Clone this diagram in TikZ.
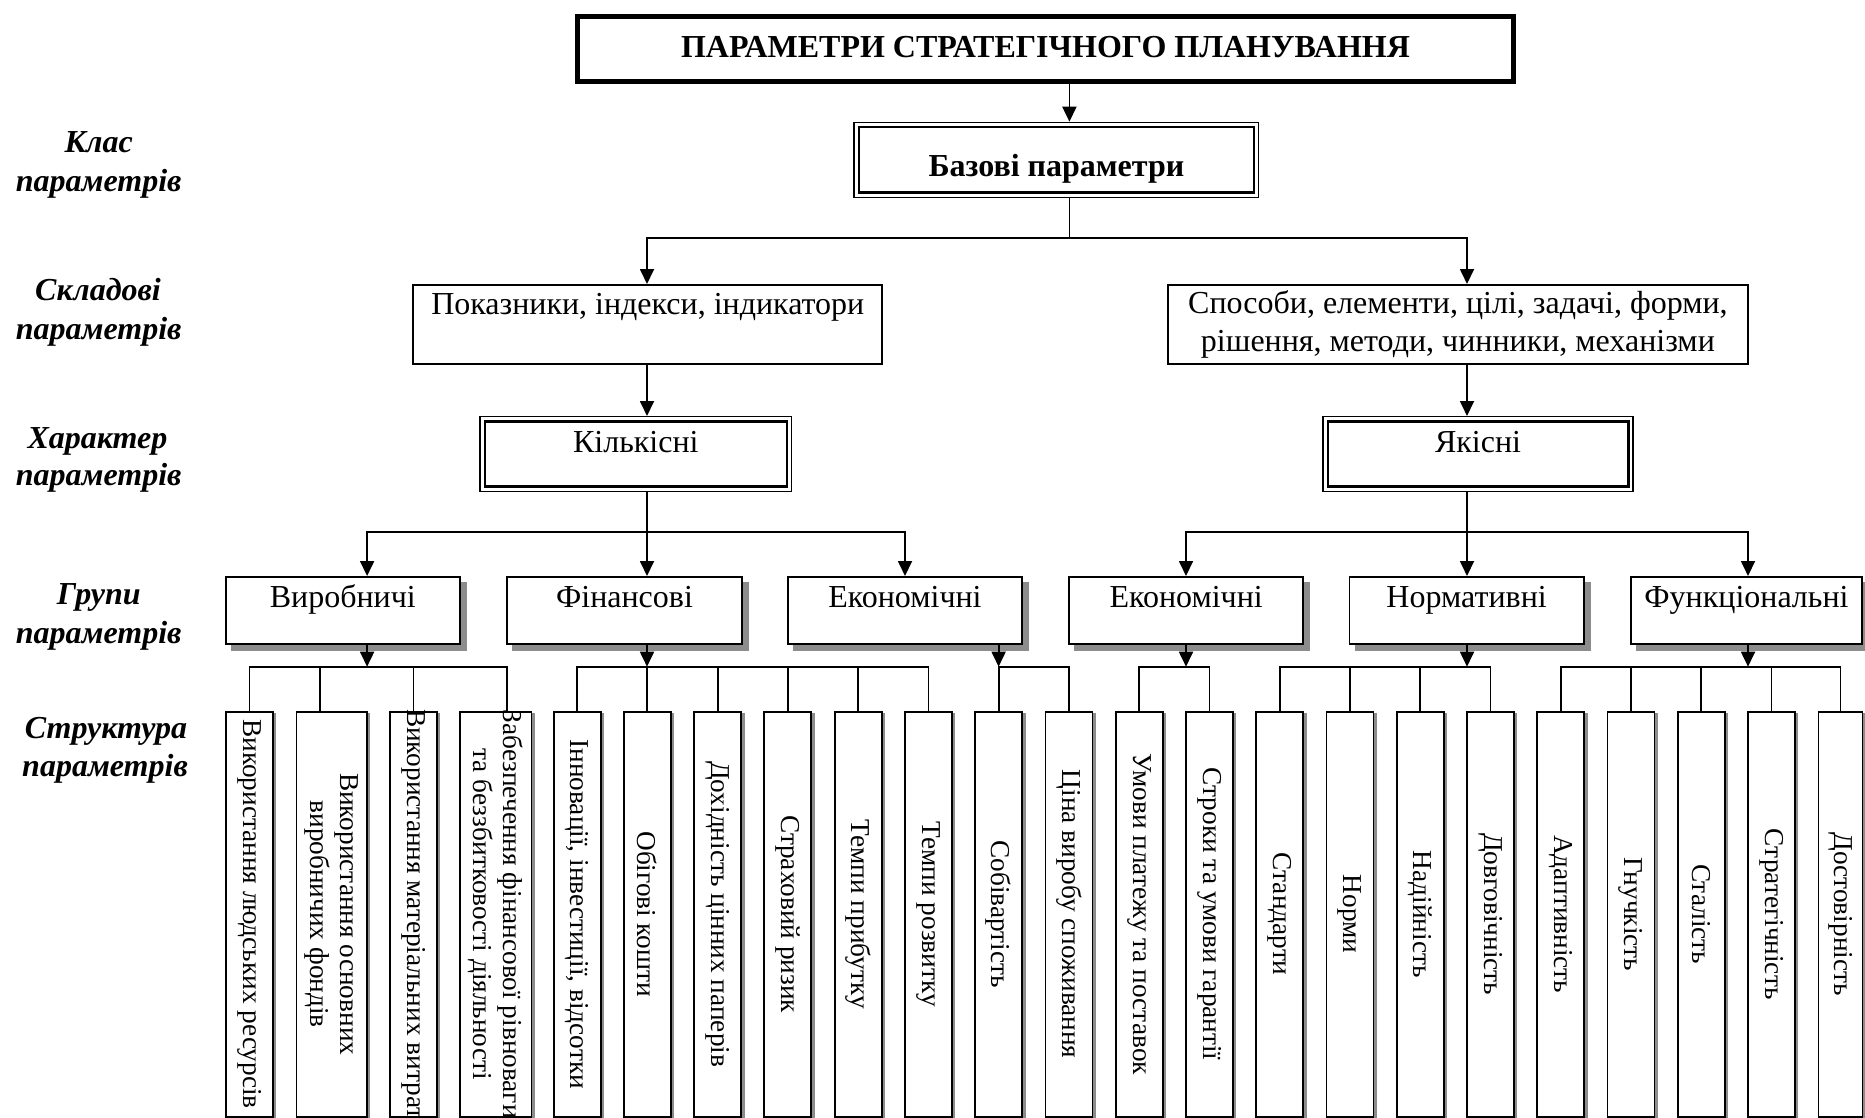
\documentclass[tikz,border=0pt]{standalone}
\usepackage{fontspec}
\setmainfont{Liberation Serif}
\usetikzlibrary{arrows.meta,backgrounds,calc}
\newcommand\hfnt{\fontsize{32}{38}\selectfont}
\newcommand\vfnt{\fontsize{27.3}{30.5}\selectfont}
\begin{document}
\begin{tikzpicture}[x=1pt,y=-1pt,
  ln/.style={line width=1.8pt},
  arr/.style={line width=1.8pt,-{Triangle[length=15pt,width=14pt]}},
  hbox/.style={draw,line width=1.8pt,fill=white,inner sep=0pt,font=\hfnt,anchor=north},
  gbox/.style={hbox,minimum width=234.3pt,text height=31pt,text depth=36.3pt},
  dbox/.style={draw,line width=1.4pt,fill=white,inner sep=0pt,font=\hfnt,anchor=north,minimum width=311pt,text height=36pt,text depth=38.7pt},
  inner/.style={line width=2.6pt},
  vbox/.style={draw,line width=1.8pt,fill=white,inner sep=0pt,font=\vfnt,rotate=-90,minimum width=405pt,minimum height=47pt,align=center},
  side/.style={font=\hfnt\bfseries\itshape,anchor=base},
  shade/.style={fill=black!45},
]
\useasboundingbox (0,0) rectangle (1865,1118);

% ---- side labels
\node[side] (s1a) at (98.7,153) {Клас};
\node[side] (s1b) at (98.7,192) {параметрів};
\node[side] (s2a) at (98,300) {Складові};
\node[side] (s2b) at (98.7,339.5) {параметрів};
\node[side] (s3a) at (97.5,448) {Характер};
\node[side] (s3b) at (98.7,485) {параметрів};
\node[side] (s4a) at (98.7,604) {Групи};
\node[side] (s4b) at (98.7,643) {параметрів};
\node[side] (s5a) at (106,738) {Структура};
\node[side] (s5b) at (105,776) {параметрів};

% ---- top levels
\node[draw,line width=5pt,fill=white,inner sep=0pt,anchor=north,minimum width=936pt,
      text height=40.5pt,text depth=24.5pt,font=\hfnt\bfseries] (top) at (1045.5,14.5)
      {ПАРАМЕТРИ СТРАТЕГІЧНОГО ПЛАНУВАННЯ};
\node[dbox,font=\hfnt\bfseries,minimum width=404.75pt,text height=54.3pt,text depth=20.7pt]
      (bas) at (1056.4,121.7) {Базові параметри};
\draw[inner] ([shift={(5.5,5.5)}]bas.north west) rectangle ([shift={(-5.5,-5.5)}]bas.south east);

\node[hbox,minimum width=469pt,text height=29.5pt,text depth=49.2pt] (pok) at (647.8,284)
      {Показники, індекси, індикатори};
\node[hbox,minimum width=580.1pt,minimum height=78.7pt,align=center] (spo) at (1457.9,284)
      {Способи, елементи, цілі, задачі, форми,\\рішення, методи, чинники, механізми};

\node[dbox,minimum width=311.7pt] (kil) at (635.85,416) {Кількісні};
\draw[inner] ([shift={(5.5,5.5)}]kil.north west) rectangle ([shift={(-5.5,-5.5)}]kil.south east);
\node[dbox,minimum width=310pt] (yak) at (1478,416) {Якісні};
\draw[inner] ([shift={(5.5,5.5)}]yak.north west) rectangle ([shift={(-5.5,-5.5)}]yak.south east);

% ---- groups
\node[gbox] (g1) at (342.85,576) {Виробничі};
\node[gbox] (g2) at (624.5,576) {Фінансові};
\node[gbox] (g3) at (904.95,576) {Економічні};
\node[gbox] (g4) at (1186.15,576) {Економічні};
\node[gbox] (g5) at (1466.6,576) {Нормативні};
\node[gbox,minimum width=231pt] (g6) at (1746.5,576) {Функціональні};

% ---- structure boxes
\node[vbox] (b1) at (249.45,914.2) {Використання людських ресурсів};
\node[vbox,minimum height=70.4pt] (b2) at (331.6,914.2) {Використання основних\\виробничих фондів};
\node[vbox] (b3) at (413.55,914.2) {\makebox[0pt]{Використання матеріальних витрат}};
\node[vbox,minimum height=71.4pt] (b4) at (495.7,914.2) {\makebox[0pt]{Забезпечення фінансової рівноваги}\\\makebox[0pt]{та беззбитковості діяльності}};
\foreach \i/\t in {5/{Інновації, інвестиції, відсотки},6/Обігові кошти,7/Дохідність цінних паперів,
  8/Страховий ризик,9/Темпи прибутку,10/Темпи розвитку,11/Собівартість,12/Ціна виробу споживання,
  13/Умови платежу та поставок,14/Строки та умови гарантії,15/Стандарти,16/Норми,17/Надійність,
  18/Довговічність,19/Адаптивність,20/Гнучкість,21/Сталість,22/Стратегічність}
  \node[vbox] (b\i) at ({577.1+(\i-5)*70.26},914.2) {\t};
\node[vbox,minimum height=44pt] (b23) at (1840.5,914.2) {Достовірність};

% ---- shadows
\begin{scope}[on background layer]
  \foreach \i in {1,...,6}
    \fill[shade] ([shift={(6,6)}]g\i.north west) rectangle ([shift={(6,6)}]g\i.south east);
  \foreach \i in {1,...,23}
    \fill[shade] ([shift={(2.5,2.5)}]b\i.south west) rectangle ([shift={(2.5,2.5)}]b\i.north east);
\end{scope}

% ---- reference coordinates
\coordinate (xA) at (1069.4,0);
\coordinate (xL) at (647,0);
\coordinate (xR) at (1467,0);
\coordinate (yB1) at (0,238.3);
\coordinate (yB2) at (0,531.7);
\coordinate (yB3) at (0,666.7);
\coordinate (a1) at (367.1,0);
\coordinate (a3) at (905,0);
\coordinate (a4) at (1186,0);
\coordinate (a6) at (1748,0);
\coordinate (c3) at (998.6,0);
\coordinate (s2) at (320,0);
\coordinate (s4) at (507.1,0);

% ---- connectors top
\draw[arr] (top.south -| xA) -- (bas.north -| xA);
\draw[ln] (bas.south -| xA) -- (xA |- yB1);
\draw[arr] (xA |- yB1) -| (pok.north -| xL);
\draw[arr] (xA |- yB1) -| (spo.north -| xR);
\draw[arr] (pok.south -| xL) -- (kil.north -| xL);
\draw[arr] (spo.south -| xR) -- (yak.north -| xR);
\draw[ln] (kil.south -| xL) -- (xL |- yB2);
\draw[ln] (yak.south -| xR) -- (xR |- yB2);
\draw[arr] (xL |- yB2) -| (g1.north -| a1);
\draw[arr] (xL |- yB2) -- (g2.north -| xL);
\draw[arr] (xL |- yB2) -| (g3.north -| a3);
\draw[arr] (xR |- yB2) -| (g4.north -| a4);
\draw[arr] (xR |- yB2) -- (g5.north -| xR);
\draw[arr] (xR |- yB2) -| (g6.north -| a6);

% ---- group -> bus arrows
\draw[arr] (g1.south -| a1) -- (a1 |- yB3);
\draw[arr] (g2.south -| xL) -- (xL |- yB3);
\draw[arr] (g3.south -| c3) -- (c3 |- yB3);
\draw[arr] (g4.south -| a4) -- (a4 |- yB3);
\draw[arr] (g5.south -| xR) -- (xR |- yB3);
\draw[arr] (g6.south -| a6) -- (a6 |- yB3);

% ---- buses and stubs
\draw[ln] (b1.west) |- (s4 |- yB3) -- (s4 |- b4.west);
\draw[ln] (s2 |- yB3) -- (s2 |- b2.west);
\draw[ln] (b3.west) -- (b3.west |- yB3);
\draw[ln] (b5.west) |- (b10.west |- yB3) -- (b10.west);
\foreach \i in {6,...,9} \draw[ln] (b\i.west) -- (b\i.west |- yB3);
\draw[ln] (b11.west) |- (b12.west |- yB3) -- (b12.west);
\draw[ln] (b13.west) |- (b14.west |- yB3) -- (b14.west);
\draw[ln] (b15.west) |- (b18.west |- yB3) -- (b18.west);
\foreach \i in {16,17} \draw[ln] (b\i.west) -- (b\i.west |- yB3);
\draw[ln] (b19.west) |- (b23.west |- yB3) -- (b23.west);
\foreach \i in {20,...,22} \draw[ln] (b\i.west) -- (b\i.west |- yB3);
\end{tikzpicture}
\end{document}
